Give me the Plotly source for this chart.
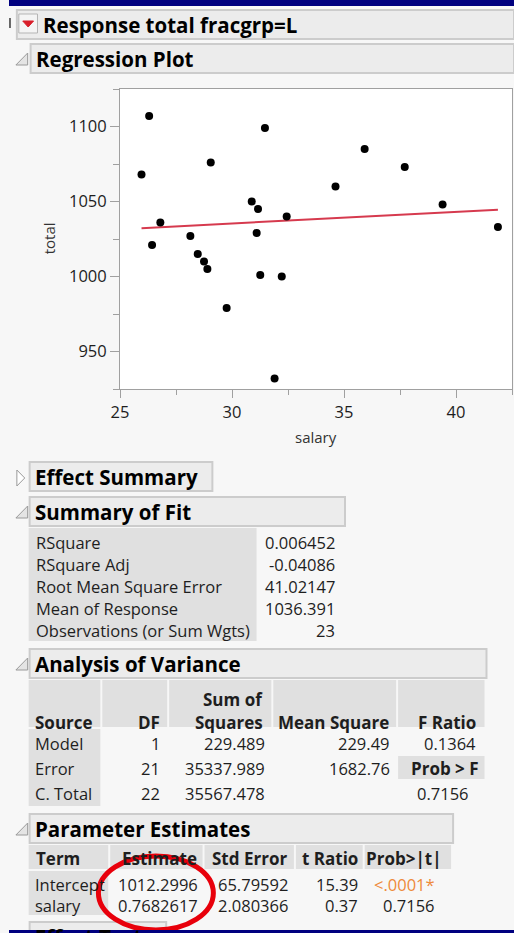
import plotly.graph_objects as go

# regression data
salary = [25.96, 26.30, 26.43, 26.80, 28.14, 29.05, 28.47, 28.75, 28.90, 30.88, 31.16, 31.10,
          31.47, 31.26, 32.22, 32.44, 34.62, 35.92, 37.71, 39.40, 41.87, 29.76, 31.90]
total = [1068, 1107, 1021, 1036, 1027, 1076, 1015, 1010, 1005, 1050, 1045, 1029,
         1099, 1001, 1000, 1040, 1060, 1085, 1073, 1048, 1033, 979, 932]

fit_labels = ["RSquare", "RSquare Adj", "Root Mean Square Error", "Mean of Response",
              "Observations (or Sum Wgts)"]
fit_values = ["0.006452", "-0.04086", "41.02147", "1036.391", "23"]

anova_source = ["Model", "Error", "C. Total"]
anova_df = ["1", "21", "22"]
anova_ss = ["229.489", "35337.989", "35567.478"]
anova_ms = ["229.49", "1682.76", ""]
anova_f = ["0.1364", "", "0.7156"]

param_terms = ["Intercept", "salary"]
param_est = ["1012.2996", "0.7682617"]
param_se = ["65.79592", "2.080366"]
param_t = ["15.39", "0.37"]
param_p = ["<.0001*", "0.7156"]

W, H = 514, 933
FONT = "Open Sans"
TXT = "#1e1e1e"
PAGE = "#f7f7f7"
BOX = "#ececec"
BOXLINE = "#cccccc"
CELL = "#e0e0e0"

shapes = []
annotations = []


def fx(x):
    return x / W


def fy(y):
    return 1 - y / H


def rect(x0, y0, x1, y1, fill, line=None, width=1, layer="below"):
    shapes.append(dict(type="rect", xref="paper", yref="paper", layer=layer,
                       x0=fx(x0), x1=fx(x1), y0=fy(y1), y1=fy(y0), fillcolor=fill,
                       line=dict(color=line or fill, width=width if line else 0)))


def poly(pts, fill, line):
    path = "M " + " L ".join(f"{fx(x)} {fy(y)}" for x, y in pts) + " Z"
    shapes.append(dict(type="path", xref="paper", yref="paper", layer="above", path=path,
                       fillcolor=fill, line=dict(color=line, width=1)))


def text(x, y, s, anchor="left", size=16.5, bold=False, color=TXT, angle=0):
    if bold:
        s = "<b>" + s + "</b>"
    annotations.append(dict(x=fx(x), y=fy(y), xref="paper", yref="paper", text=s,
                            showarrow=False, xanchor=anchor, yanchor="middle",
                            textangle=angle, font=dict(family=FONT, size=size, color=color)))


def section(x0, y0, x1, title, is_open=True):
    rect(x0, y0, x1, y0 + 29, BOX, BOXLINE, 2)
    text(x0 + 3, y0 + 15, title, size=20.5, bold=True, color="#000")
    if is_open:
        poly([(19, y0 + 9), (19, y0 + 21), (7, y0 + 21)], "#e4e4e4", "#9a9a9a")
    else:
        poly([(8, y0 + 8), (8, y0 + 24), (16, y0 + 16)], "#ffffff", "#9a9a9a")


# top report header
rect(8, 10, 514, 39, BOX, BOXLINE, 2)
rect(10, 14, 29, 33, "#f4f4f4", "#b5b5b5")
poly([(14, 21), (25, 21), (19.5, 27)], "#d81e2a", "#d81e2a")
rect(0, 18, 2, 28, "#666666")
text(33, 25, "Response total fracgrp=L", size=20.5, bold=True, color="#000")

section(22, 44, 514, "Regression Plot")

# plot frame
rect(113, 89, 512, 389, "#ffffff")

intercept = float(param_est[0])
slope = float(param_est[1])
line_x = [min(salary), max(salary)]
line_y = [intercept + slope * v for v in line_x]

fig = go.Figure()
fig.add_trace(go.Scatter(x=line_x, y=line_y, mode="lines",
                         line=dict(color="#d63a4e", width=2), hoverinfo="skip"))
fig.add_trace(go.Scatter(x=salary, y=total, mode="markers",
                         marker=dict(color="#000", size=8)))

text(312, 437, "salary", anchor="center", size=15, color="#333")
text(41, 238, "total", anchor="center", size=15, color="#333", angle=-90)

# Effect Summary (closed)
section(21, 462, 207, "Effect Summary", is_open=False)

# Summary of Fit
section(21, 497, 342, "Summary of Fit")
rect(20, 528, 252, 641, CELL)
for i, (lab, val) in enumerate(zip(fit_labels, fit_values)):
    yy = 542 + i * 22.2
    text(25, yy, lab)
    text(334, yy, val, anchor="right")

# Analysis of Variance
section(21, 649, 486, "Analysis of Variance")
cols = [(20, 93), (95, 161), (163, 267), (269, 394), (396, 484)]
for c0, c1 in cols:
    rect(c0, 680, c1, 727, CELL)
rect(20, 729, 93, 806, CELL)
text(24, 722, "Source", bold=True, size=17)
text(156, 722, "DF", anchor="right", bold=True, size=17)
text(261, 699, "Sum of", anchor="right", bold=True, size=17)
text(261, 722, "Squares", anchor="right", bold=True, size=17)
text(389, 722, "Mean Square", anchor="right", bold=True, size=17)
text(477, 722, "F Ratio", anchor="right", bold=True, size=17)
rect(396, 756, 484, 779, CELL)
text(480, 768, "Prob > F", anchor="right", bold=True, size=17)
for i in range(len(anova_source)):
    yy = 743 + i * 25.3
    text(24, yy, anova_source[i])
    text(156, yy, anova_df[i], anchor="right")
    text(263, yy, anova_ss[i], anchor="right")
    text(390, yy, anova_ms[i], anchor="right")
    text(477 if i == 0 else 470, yy, anova_f[i], anchor="right")

# Parameter Estimates
section(21, 814, 452, "Parameter Estimates")
pcols = [(20, 101), (103, 197), (199, 290), (292, 360), (362, 450)]
for c0, c1 in pcols:
    rect(c0, 845, c1, 869, CELL)
rect(20, 871, 101, 915, CELL)
text(25, 858, "Term", bold=True, size=17)
text(193, 858, "Estimate", anchor="right", bold=True, size=17)
text(285, 858, "Std Error", anchor="right", bold=True, size=17)
text(357, 858, "t Ratio", anchor="right", bold=True, size=17)
text(443, 858, "Prob>|t|", anchor="right", bold=True, size=17)
for i in range(len(param_terms)):
    yy = 884 + i * 21
    text(24, yy, param_terms[i])
    text(194, yy, param_est[i], anchor="right")
    text(286, yy, param_se[i], anchor="right")
    text(357, yy, param_t[i], anchor="right")
    text(436, yy, param_p[i], anchor="right", color="#ee8a3a" if i == 0 else TXT)

# next (cut off) section
section(21, 922, 160, "Effect Tests")

# red ellipse
shapes.append(dict(type="circle", xref="paper", yref="paper", layer="above",
                   x0=fx(91), x1=fx(208), y0=fy(930), y1=fy(856),
                   line=dict(color="#e8000b", width=5)))

# window frame (top and bottom bands)
rect(0, 0, 514, 6, "#00007f", layer="above")
rect(0, 930, 514, 933, "#00007f", layer="above")

axis_common = dict(showline=True, linecolor="#a0a0a0", linewidth=1, mirror=True,
                   showgrid=False, zeroline=False, ticks="outside", tickcolor="#a0a0a0",
                   tickfont=dict(family=FONT, size=16.5, color=TXT))
fig.update_layout(
    width=W, height=H,
    margin=dict(l=0, r=0, t=0, b=0),
    paper_bgcolor=PAGE,
    plot_bgcolor="rgba(0,0,0,0)",
    showlegend=False,
    shapes=shapes,
    annotations=annotations,
    xaxis=dict(domain=[fx(113), fx(512)], range=[25, 42.5], tick0=25, dtick=5, ticklen=8,
               minor=dict(ticks="outside", dtick=2.5, ticklen=5, tickcolor="#a0a0a0"),
               **axis_common),
    yaxis=dict(domain=[fy(389), fy(89)], range=[925, 1125], tick0=950, dtick=50, ticklen=9,
               minor=dict(ticks="outside", dtick=25, ticklen=6, tickcolor="#a0a0a0"),
               **axis_common),
)

# page fits the window exactly: pin the graph div to the top-left corner
page_css = ("document.documentElement.style.overflow='hidden';"
            "document.body.style.margin='0';"
            "var gd=document.getElementById('{plot_id}');"
            "gd.style.position='absolute';gd.style.left='0px';gd.style.top='0px';")
fig.write_html("out.html", config={"displayModeBar": False, "responsive": False},
               post_script=page_css)
